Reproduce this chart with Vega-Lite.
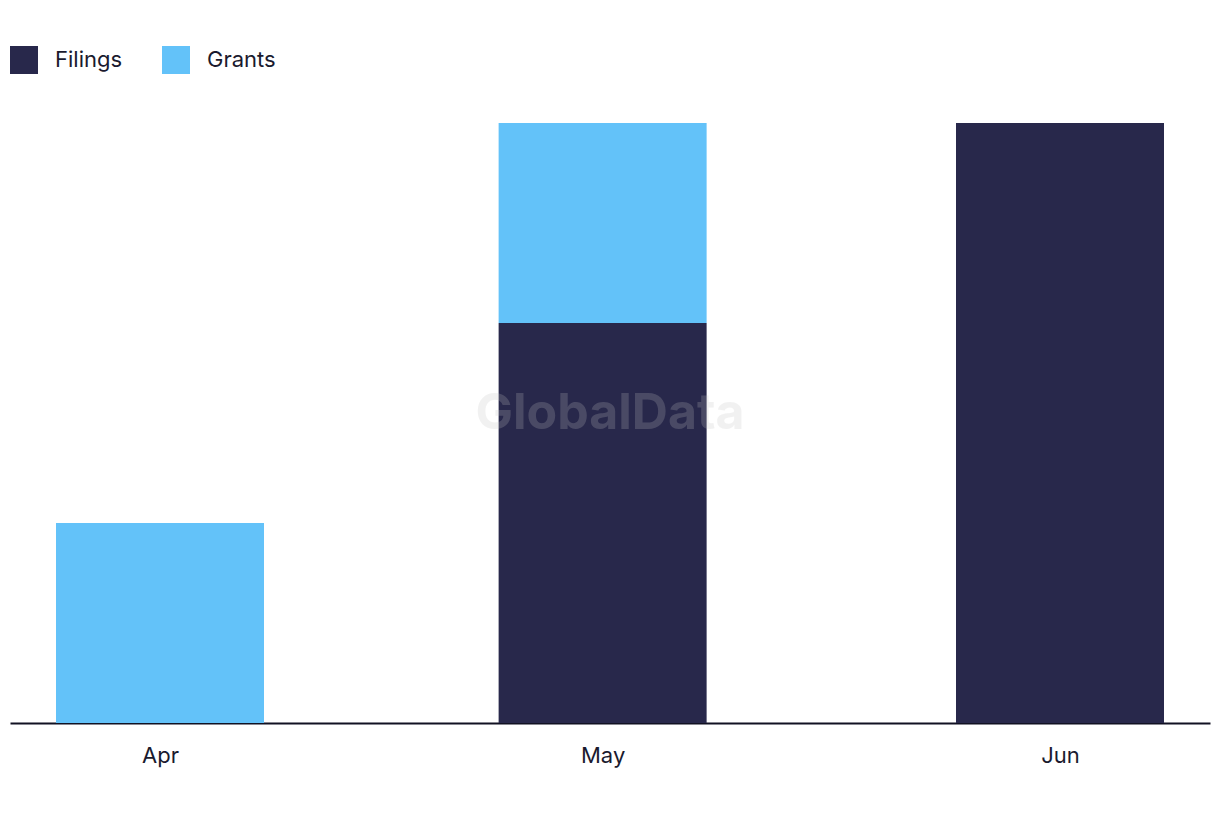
{
  "$schema": "https://vega.github.io/schema/vega-lite/v6.json",
  "width": 1200,
  "height": 600,
  "autosize": {"type": "none"},
  "padding": {"left": 10, "top": 123, "right": 10, "bottom": 99},
  "background": "white",
  "config": {
    "view": {"stroke": null},
    "font": "Inter"
  },
  "datasets": {
    "bars": [
      {"month": "2024-04-01", "series": "Filings", "value": 0},
      {"month": "2024-04-01", "series": "Grants", "value": 1},
      {"month": "2024-05-01", "series": "Filings", "value": 2},
      {"month": "2024-05-01", "series": "Grants", "value": 1},
      {"month": "2024-06-01", "series": "Filings", "value": 3},
      {"month": "2024-06-01", "series": "Grants", "value": 0}
    ],
    "mark": [
      {"x": "2024-05-01T12:00:00Z", "y": 1.545, "label": "GlobalData"}
    ]
  },
  "layer": [
    {
      "data": {"name": "bars"},
      "mark": {"type": "bar", "width": 208},
      "encoding": {
        "x": {
          "field": "month",
          "type": "temporal",
          "scale": {"type": "utc", "padding": 0, "domain": ["2024-03-21T20:00:00Z", "2024-06-11T04:00:00Z"]},
          "axis": {
            "title": null,
            "values": ["2024-04-01", "2024-05-01", "2024-06-01"],
            "labelExpr": "utcFormat(datum.value, '%b')",
            "ticks": false,
            "grid": false,
            "domainColor": "#111122",
            "domainWidth": 2,
            "labelFontSize": 22,
            "labelColor": "#1a1a2e",
            "labelPadding": 22,
            "labelFont": "Inter"
          }
        },
        "y": {
          "field": "value",
          "type": "quantitative",
          "stack": "zero",
          "scale": {"domain": [0, 3], "nice": false},
          "axis": null
        },
        "color": {
          "field": "series",
          "type": "nominal",
          "scale": {"domain": ["Filings", "Grants"], "range": ["#28284b", "#63c2f9"]},
          "legend": {
            "title": null,
            "orient": "none",
            "direction": "horizontal",
            "legendX": 0,
            "legendY": -77,
            "symbolType": "square",
            "symbolSize": 784,
            "symbolStrokeWidth": 0,
            "symbolOpacity": 1,
            "labelFontSize": 22,
            "labelColor": "#1a1a2e",
            "labelFont": "Inter",
            "labelOffset": 17,
            "columnPadding": 39
          }
        },
        "order": {"field": "series", "sort": "ascending"}
      }
    },
    {
      "data": {"name": "mark"},
      "mark": {"type": "text", "fontSize": 50, "fontWeight": "bold", "font": "Inter", "color": "#c4c4c4", "opacity": 0.22, "align": "center", "baseline": "middle"},
      "encoding": {
        "x": {"field": "x", "type": "temporal"},
        "y": {"field": "y", "type": "quantitative"},
        "text": {"field": "label"}
      }
    }
  ]
}
